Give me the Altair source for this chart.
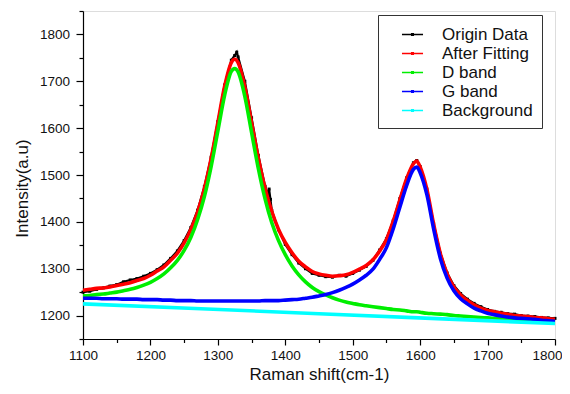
import altair as alt
import pandas as pd

series_names = ["Origin Data", "After Fitting", "D band", "G band", "Background"]
series_colors = ["#000000", "#ff0000", "#00ee00", "#0000ff", "#00ffff"]

# measured spectrum (black)
data_shift = [1100, 1110, 1120, 1130, 1140, 1150, 1160, 1170, 1180, 1190, 1200, 1210,
              1220, 1230, 1240, 1250, 1260, 1270, 1280, 1290, 1300, 1310, 1320, 1325,
              1328, 1330, 1340, 1350, 1360, 1370, 1374, 1376, 1378, 1380, 1390, 1400,
              1410, 1420, 1430, 1440, 1450, 1460, 1470, 1480, 1490, 1500, 1510, 1520,
              1530, 1540, 1550, 1560, 1570, 1580, 1590, 1595, 1600, 1610, 1620, 1630,
              1640, 1650, 1660, 1670, 1680, 1690, 1700, 1710, 1720, 1730, 1740, 1750,
              1760, 1770, 1780, 1790, 1800]
data_intensity = [1250, 1252, 1256, 1259, 1263, 1266, 1272, 1276, 1279, 1284, 1290, 1298,
                  1308, 1322, 1338, 1360, 1388, 1425, 1475, 1538, 1614, 1692, 1745, 1755,
                  1762, 1752, 1700, 1622, 1542, 1476, 1458, 1470, 1448, 1424, 1383, 1352,
                  1330, 1312, 1300, 1290, 1286, 1283, 1282, 1286, 1284, 1290, 1297, 1305,
                  1318, 1340, 1364, 1402, 1450, 1494, 1526, 1531, 1518, 1470, 1396, 1333,
                  1291, 1264, 1247, 1235, 1226, 1219, 1213, 1209, 1207, 1204, 1203, 1200,
                  1199, 1198, 1196, 1195, 1194]

# fitted curves
fit_shift = [1100, 1110, 1120, 1130, 1140, 1150, 1160, 1170, 1180, 1190, 1200, 1210,
             1220, 1230, 1240, 1250, 1260, 1270, 1280, 1290, 1300, 1310, 1320, 1325,
             1330, 1340, 1350, 1360, 1370, 1380, 1390, 1400, 1410, 1420, 1430, 1440,
             1450, 1460, 1470, 1480, 1490, 1500, 1510, 1520, 1530, 1540, 1550, 1560,
             1570, 1580, 1590, 1595, 1600, 1610, 1620, 1630, 1640, 1650, 1660, 1670,
             1680, 1690, 1700, 1710, 1720, 1730, 1740, 1750, 1760, 1770, 1780, 1790, 1800]
after_fitting = [1254, 1256, 1258, 1259, 1261, 1264, 1267, 1270, 1275, 1279, 1286, 1295,
                 1304, 1318, 1333, 1355, 1384, 1421, 1471, 1535, 1612, 1689, 1740, 1747,
                 1740, 1688, 1612, 1536, 1472, 1422, 1384, 1356, 1334, 1316, 1304, 1294,
                 1289, 1286, 1284, 1285, 1287, 1292, 1299, 1307, 1319, 1338, 1362, 1401,
                 1447, 1492, 1524, 1530, 1517, 1469, 1395, 1332, 1289, 1261, 1244, 1232,
                 1223, 1216, 1211, 1208, 1205, 1203, 1200, 1199, 1198, 1196, 1195, 1193, 1192]
d_band = [1242, 1243, 1245, 1246, 1248, 1250, 1253, 1256, 1260, 1265, 1271, 1279,
          1289, 1302, 1318, 1339, 1367, 1405, 1454, 1518, 1594, 1670, 1721, 1727,
          1720, 1668, 1591, 1514, 1449, 1398, 1360, 1330, 1306, 1287, 1272, 1260,
          1251, 1244, 1238, 1233, 1229, 1226, 1223, 1221, 1219, 1217, 1215, 1213,
          1212, 1210, 1208, 1208, 1207, 1205, 1204, 1203, 1202, 1200, 1199, 1198,
          1197, 1196, 1195, 1194, 1194, 1193, 1192, 1191, 1190, 1189, 1189, 1188, 1187]
g_band = [1237, 1237, 1237, 1236, 1236, 1236, 1235, 1235, 1235, 1234, 1234, 1234,
          1233, 1233, 1232, 1232, 1232, 1231, 1231, 1231, 1231, 1231, 1231, 1231,
          1231, 1231, 1231, 1231, 1232, 1232, 1232, 1233, 1234, 1235, 1237, 1239,
          1242, 1245, 1249, 1254, 1260, 1267, 1276, 1286, 1299, 1320, 1345, 1385,
          1432, 1478, 1512, 1517, 1505, 1458, 1385, 1322, 1280, 1253, 1236, 1225,
          1216, 1210, 1205, 1202, 1199, 1197, 1195, 1194, 1193, 1192, 1190, 1189, 1188]
bg_shift = [1100, 1450, 1800]
background = [1225, 1204, 1183]

x_ticks = [1100, 1150, 1200, 1250, 1300, 1350, 1400, 1450, 1500, 1550, 1600, 1650, 1700, 1750, 1800]
y_ticks = [1150, 1200, 1250, 1300, 1350, 1400, 1450, 1500, 1550, 1600, 1650, 1700, 1750, 1800, 1850]

rows = []
for xs, ys, name in [(data_shift, data_intensity, "Origin Data"),
                     (fit_shift, after_fitting, "After Fitting"),
                     (fit_shift, d_band, "D band"),
                     (fit_shift, g_band, "G band"),
                     (bg_shift, background, "Background")]:
    for xv, yv in zip(xs, ys):
        rows.append({"shift": xv, "intensity": yv, "series": name})
df = pd.DataFrame(rows)

FONT = "Liberation Sans"
major = "datum.value % 100 === 0"

x_axis = alt.Axis(
    values=x_ticks, format="d", labelExpr=major + " ? datum.label : ''",
    tickSize={"condition": {"test": major, "value": 6}, "value": 3.5},
    labelOffset={"condition": {"test": "datum.value === 1800", "value": -8}, "value": 0},
    title="Raman shift(cm-1)", titleFont=FONT, titleFontSize=17, titleFontWeight="normal",
    titleColor="#111", titleY=40, titleBaseline="alphabetic",
    labelFont=FONT, labelFontSize=13.5, labelColor="#111", labelPadding=3,
    labelFlush=False, labelOverlap=False,
    domainColor="black", domainWidth=1.2, tickColor="black", tickWidth=1.2, grid=False,
)
y_axis = alt.Axis(
    values=y_ticks, format="d", labelExpr=major + " ? datum.label : ''",
    tickSize={"condition": {"test": major, "value": 7}, "value": 4},
    title="Intensity(a.u)", titleFont=FONT, titleFontSize=17, titleFontWeight="normal",
    titleColor="#111", titleX=-60.5, titleY=177, titleBaseline="middle", titleAlign="center",
    labelFont=FONT, labelFontSize=13.5, labelColor="#111", labelPadding=6.5,
    labelFlush=False, labelOverlap=False,
    domainColor="black", domainWidth=1.2, tickColor="black", tickWidth=1.2, grid=False,
)

legend = alt.Legend(
    title=None, orient="none", legendX=295, legendY=4, direction="vertical",
    symbolType="M-1.08,0H1.08M-0.08,-0.08H0.08V0.08H-0.08Z",
    symbolSize=380, symbolStrokeWidth=1.5, symbolOffset=15,
    labelFont=FONT, labelFontSize=17, labelColor="#111", labelOffset=19,
    rowPadding=0, padding=9, strokeColor="#333", fillColor="white",
)

x_enc = alt.X("shift:Q", scale=alt.Scale(domain=[1100, 1800], nice=False, zero=False), axis=x_axis)
y_enc = alt.Y("intensity:Q", scale=alt.Scale(domain=[1150, 1850], nice=False, zero=False), axis=y_axis)
c_enc = alt.Color("series:N", scale=alt.Scale(domain=series_names, range=series_colors), legend=legend)

base = alt.Chart(df).encode(x=x_enc, y=y_enc)

layers = []
layers.append(base.transform_filter(alt.datum.series == "Origin Data")
              .mark_line(strokeWidth=2.2).encode(color=c_enc))
layers.append(base.transform_filter(alt.datum.series == "Origin Data")
              .mark_square(size=9, opacity=1).encode(color=alt.value("black")))
for name in series_names[1:]:
    layers.append(base.transform_filter(alt.datum.series == name)
                  .mark_line(strokeWidth=3.6, interpolate="monotone").encode(color=c_enc))

chart = alt.layer(*layers).properties(
    width=472, height=328,
    autosize=alt.AutoSizeParams(type="none"),
    padding={"left": 75, "top": 3, "right": 7, "bottom": 46},
).configure_view(stroke=None).configure(background="white")

chart.save("out.html", embed_options={"renderer": "svg", "actions": False})
